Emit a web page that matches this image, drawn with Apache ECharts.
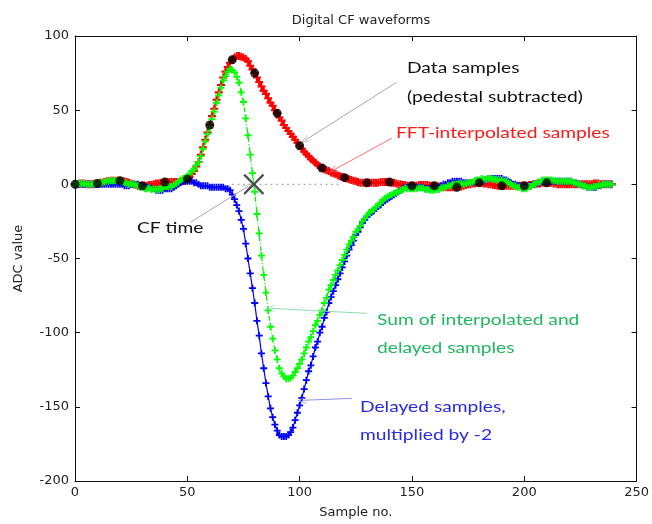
<!DOCTYPE html>
<html>
<head>
<meta charset="utf-8">
<script src="https://cdn.jsdelivr.net/npm/echarts@6/dist/echarts.min.js"></script>
<style>
  html, body { margin: 0; padding: 0; background: #ffffff; }
  #chart { width: 652px; height: 524px; }
</style>
</head>
<body>
<div id="chart"></div>
<script>
// FFT-interpolated pulse, one value per sample (samples 0..239)
const fftInterpolated = [
  0, 0, 0.5, 0.5, 0.5, 0, 0, 0, 0, 0.5,
  0.5, 1, 1, 1.5, 2, 2, 2.5, 2.5, 2.5, 2.5,
  2.5, 2, 2, 1.5, 1, 0.5, 0, -0.5, -1, -1,
  -1, -1, -1, -0.5, -0.5, 0, 0.5, 0.5, 1, 1,
  1.5, 1.5, 1.5, 1.5, 1.5, 1.5, 1.5, 2, 2, 2.5,
  3.5, 5, 7, 9, 12, 15, 20, 25, 30, 35,
  40, 46, 51, 57, 62, 67, 72, 76, 79, 82,
  84, 85.5, 86.5, 86.5, 86, 85.5, 84.5, 83, 80, 77.5,
  75, 72, 69, 66, 63, 61, 58, 55, 53, 50,
  48, 45, 43, 40, 38, 36, 34, 32, 30, 28,
  26, 24, 22, 20.5, 19, 17, 16, 14.5, 13, 12,
  11, 10, 9.5, 9, 8, 7.5, 7, 6, 5.5, 5,
  4.5, 4, 3.5, 3, 2.5, 2, 1.5, 1, 1, 1,
  1, 1, 1, 1, 1, 1, 1.5, 1.5, 1.5, 1.5,
  1.5, 1, 1, 0.5, 0, 0, -0.5, -0.5, -1, -1,
  -1, -1, -1, -0.5, -0.5, -0.5, -0.5, -0.5, -1, -1,
  -1, -1.5, -1.5, -1.5, -2, -2, -2, -2, -2, -2,
  -2, -1.5, -1.5, -1, -0.5, 0, 0, 0.5, 0.5, 1,
  1, 1, 0.5, 0.5, 0, 0, -0.5, -0.5, -1, -1,
  -1, -1, -1, -1, -1, -1, -1, -1, -1, -1,
  -1, -1, -0.5, -0.5, 0, 0, 0.5, 0.5, 1, 1,
  1, 1, 1, 0.5, 0.5, 0, 0, 0, 0, 0,
  0, 0, 0, 0, 0, 0, 0, 0, 0, 0,
  0, 0.5, 0.5, 0.5, 0, 0, 0, 0, 0, 0
];

// Delayed copy of the pulse, multiplied by -2
const delayedTimesMinus2 = [
  0, 0, 0, 0, 0, 0, 0, 0, 0, 0,
  0, 0, 0, 0, 0, 0, 0, 0, 0, 0,
  0, 0, -1, -1, -1, 0, 0, 0, 0, -1,
  -1, -2, -2, -2, -3, -3, -4, -4, -4, -4,
  -3, -3, -3, -3, -2, -1, 0, 1, 2, 2,
  2, 2, 2, 1, 1, 0, -1, -1, -1, -1,
  -2, -2, -2, -2, -2, -2, -2, -3, -3, -4,
  -7, -10, -14, -18, -24, -30, -40, -50, -60, -70,
  -80, -92, -102, -114, -124, -134, -143, -151, -157, -162,
  -166, -169, -170, -170, -170, -169, -167, -164, -159, -154,
  -149, -144, -138, -132, -126, -122, -116, -110, -106, -100,
  -96, -90, -86, -80, -76, -72, -68, -64, -60, -56,
  -52, -48, -44, -41, -38, -34, -32, -29, -26, -24,
  -22, -20, -19, -18, -16, -15, -14, -12, -11, -10,
  -9, -8, -7, -6, -5, -4, -3, -2, -2, -2,
  -2, -2, -2, -2, -2, -2, -3, -3, -3, -3,
  -3, -2, -2, -1, 0, 0, 1, 1, 2, 2,
  2, 2, 2, 1, 1, 1, 1, 1, 2, 2,
  2, 3, 3, 3, 4, 4, 4, 4, 4, 4,
  4, 3, 3, 2, 1, 0, 0, -1, -1, -2,
  -2, -2, -1, -1, 0, 0, 1, 1, 2, 2,
  2, 2, 2, 2, 2, 2, 2, 2, 2, 2,
  2, 2, 1, 1, 0, 0, -1, -1, -2, -2,
  -2, -2, -2, -1, -1, 0, 0, 0, 0, 0
];

// Sum of the interpolated and the delayed samples (the CF signal)
const cfSum = [
  0, 0, 0.5, 0.5, 0.5, 0, 0, 0, 0, 0.5,
  0.5, 1, 1, 1.5, 2, 2, 2.5, 2.5, 2.5, 2.5,
  2.5, 2, 1, 0.5, 0, 0.5, 0, -0.5, -1, -2,
  -2, -3, -3, -2.5, -3.5, -3, -3.5, -3.5, -3, -3,
  -1.5, -1.5, -1.5, -1.5, -0.5, 0.5, 1.5, 3, 4, 4.5,
  5.5, 7, 9, 10, 13, 15, 19, 24, 29, 34,
  38, 44, 49, 55, 60, 65, 70, 73, 76, 78,
  77, 75.5, 72.5, 68.5, 62, 55.5, 44.5, 33, 20, 7.5,
  -5, -20, -33, -48, -61, -73, -85, -96, -104, -112,
  -118, -124, -127.5, -129.5, -131, -131, -130.5, -129, -126.5, -124,
  -121, -118, -114, -110, -106, -103, -99, -95, -92, -88,
  -85, -80, -76.5, -71, -68, -64.5, -61, -58, -54.5, -51,
  -47.5, -44, -40.5, -38, -35.5, -32, -30.5, -28, -25, -23,
  -21, -19, -18, -17, -15, -14, -12.5, -10.5, -9.5, -8.5,
  -7.5, -7, -6, -5.5, -5, -4, -3.5, -2.5, -3, -3,
  -3, -3, -3, -2.5, -2.5, -2.5, -3.5, -3.5, -4, -4,
  -4, -3.5, -3.5, -2.5, -2, -2, -1, -1, 0, 0,
  0, 0.5, 0.5, 0, 0.5, 1, 1, 1.5, 2.5, 3,
  3, 4, 3.5, 3.5, 4, 4, 3.5, 3.5, 3, 3,
  3, 2, 2, 1, 0, -1, -1, -2, -2, -3,
  -3, -3, -1.5, -1.5, 0, 0, 1.5, 1.5, 3, 3,
  3, 3, 3, 2.5, 2.5, 2, 2, 2, 2, 2,
  2, 2, 1, 1, 0, 0, -1, -1, -2, -2,
  -2, -1.5, -1.5, -0.5, -1, 0, 0, 0, 0, 0
];

// Raw ADC data samples (pedestal subtracted), every 10th sample from 0 to 210
const dataSampleNo = [0, 10, 20, 30, 40, 50, 60, 70, 80, 90, 100,
                      110, 120, 130, 140, 150, 160, 170, 180, 190, 200, 210];
const dataSamples = [0, 0.5, 2.5, -1, 1.5, 3.5, 40, 84, 75, 48, 26,
                     11, 4.5, 1, 1.5, -1, -1, -2, 1, -1, -1, 1];

// Constant-fraction crossing time (sample no., ADC value)
const cfTime = [79.6, 0];
// Zero reference segment through the crossing
const zeroRefX = [70, 118];

// Axis ranges and tick spacing
const xRange = [0, 250], xStep = 50;
const yRange = [-200, 100], yStep = 50;

const pairs = (vals) => vals.map((v, i) => [i, v]);

const plusSymbol = 'path://M2.6,0H4.4V2.6H7V4.4H4.4V7H2.6V4.4H0V2.6H2.6Z';
const crossSymbol = 'path://M0,1.6L1.6,0L10,8.4L18.4,0L20,1.6L11.6,10L20,18.4L18.4,20L10,11.6L1.6,20L0,18.4L8.4,10Z';
const arrowHead = 'path://M0,0L5,10L4,10L0,2L-4,10L-5,10Z';

const axisFont = { fontFamily: 'DejaVu Sans', fontSize: 13, color: '#222' };

function arrow(from, to, color) {
  return [{ coord: from, lineStyle: { color: color, width: 1, type: 'solid' } }, { coord: to }];
}

const chart = echarts.init(document.getElementById('chart'), null, { renderer: 'canvas' });

const labelStyle = (color) => ({ font: '15px Lato', fill: color, verticalAlign: 'middle' });
const stretch = 1.28;

chart.setOption({
  animation: false,
  backgroundColor: '#ffffff',
  title: {
    text: 'Digital CF waveforms',
    left: 356, top: 9, textAlign: 'center',
    textStyle: { fontFamily: 'DejaVu Sans', fontSize: 13, fontWeight: 'normal', color: '#222' }
  },
  grid: { left: 75, right: 14, top: 36, bottom: 40 },
  xAxis: [{
    type: 'value', min: xRange[0], max: xRange[1], interval: xStep,
    name: 'Sample no.', nameLocation: 'middle', nameGap: 25,
    nameTextStyle: axisFont,
    axisLine: { show: true, onZero: false, lineStyle: { color: '#111', width: 1 } },
    axisTick: { show: true, inside: true, length: 5, lineStyle: { color: '#111' } },
    axisLabel: Object.assign({ margin: 5 }, axisFont),
    splitLine: { show: false }
  }, {
    type: 'value', position: 'top', min: xRange[0], max: xRange[1], interval: xStep,
    axisLine: { show: true, onZero: false, lineStyle: { color: '#111', width: 1 } },
    axisTick: { show: true, inside: true, length: 5, lineStyle: { color: '#111' } },
    axisLabel: { show: false }, splitLine: { show: false }
  }],
  yAxis: [{
    type: 'value', min: yRange[0], max: yRange[1], interval: yStep,
    name: 'ADC value', nameLocation: 'middle', nameGap: 50,
    nameTextStyle: axisFont,
    axisLine: { show: true, onZero: false, lineStyle: { color: '#111', width: 1 } },
    axisTick: { show: true, inside: true, length: 5, lineStyle: { color: '#111' } },
    axisLabel: Object.assign({ margin: 6 }, axisFont),
    splitLine: { show: false }
  }, {
    type: 'value', position: 'right', min: yRange[0], max: yRange[1], interval: yStep,
    axisLine: { show: true, onZero: false, lineStyle: { color: '#111', width: 1 } },
    axisTick: { show: true, inside: true, length: 5, lineStyle: { color: '#111' } },
    axisLabel: { show: false }, splitLine: { show: false }
  }],
  series: [
    {
      name: 'Zero reference', type: 'line', silent: true,
      data: zeroRefX.map(x => [x, 0]), symbol: 'none',
      lineStyle: { color: '#9a9a9a', width: 1.2, type: [1.5, 4] }, z: 1
    },
    {
      name: 'FFT-interpolated samples', type: 'line', data: pairs(fftInterpolated),
      symbol: plusSymbol, symbolSize: 8, showAllSymbol: true,
      itemStyle: { color: '#ff0000' }, lineStyle: { color: '#ff0000', width: 2 }, z: 2,
      markLine: {
        silent: true, symbol: ['none', arrowHead], symbolSize: [7, 9],
        label: { show: false },
        data: [
          arrow([143.2, 68.8], [102.4, 29.7], '#a8a8a8'),
          arrow([141, 31], [114.8, 9.4], '#ff7070'),
          arrow([51.4, -25.6], [77.1, -1.3], '#a8a8a8'),
          arrow([129.9, -87], [86.9, -83.6], '#8fdcae'),
          arrow([123.2, -144.3], [101, -145.6], '#9090f0')
        ]
      }
    },
    {
      name: 'Delayed samples, multiplied by -2', type: 'line', data: pairs(delayedTimesMinus2),
      symbol: plusSymbol, symbolSize: 7, showAllSymbol: true,
      itemStyle: { color: '#0000ff' }, lineStyle: { color: '#0000ff', width: 1.2 }, z: 3
    },
    {
      name: 'Sum of interpolated and delayed samples', type: 'line', data: pairs(cfSum),
      symbol: plusSymbol, symbolSize: 7, showAllSymbol: true,
      itemStyle: { color: '#00ff00' }, lineStyle: { color: '#00ee00', width: 1.2, type: [5, 2, 1, 2] }, z: 4
    },
    {
      name: 'Data samples', type: 'scatter',
      data: dataSampleNo.map((x, i) => [x, dataSamples[i]]),
      symbol: 'circle', symbolSize: 9, itemStyle: { color: '#000000' }, z: 5
    },
    {
      name: 'CF time', type: 'scatter', data: [cfTime],
      symbol: crossSymbol, symbolSize: 21, itemStyle: { color: '#222222' }, z: 6
    }
  ],
  graphic: [
    { type: 'text', x: 407, y: 68, scaleX: stretch, style: Object.assign({ text: 'Data samples' }, labelStyle('#111111')) },
    { type: 'text', x: 407, y: 97, scaleX: stretch, style: Object.assign({ text: '(pedestal subtracted)' }, labelStyle('#111111')) },
    { type: 'text', x: 396, y: 133, scaleX: stretch, style: Object.assign({ text: 'FFT-interpolated samples' }, labelStyle('#ff1a1a')) },
    { type: 'text', x: 137, y: 228, scaleX: stretch, style: Object.assign({ text: 'CF time' }, labelStyle('#111111')) },
    { type: 'text', x: 377, y: 320, scaleX: stretch, style: Object.assign({ text: 'Sum of interpolated and' }, labelStyle('#20b860')) },
    { type: 'text', x: 377, y: 348, scaleX: stretch, style: Object.assign({ text: 'delayed samples' }, labelStyle('#20b860')) },
    { type: 'text', x: 360, y: 407, scaleX: stretch, style: Object.assign({ text: 'Delayed samples,' }, labelStyle('#2a2ae0')) },
    { type: 'text', x: 360, y: 435, scaleX: stretch, style: Object.assign({ text: 'multiplied by -2' }, labelStyle('#2a2ae0')) }
  ]
});
</script>
</body>
</html>
